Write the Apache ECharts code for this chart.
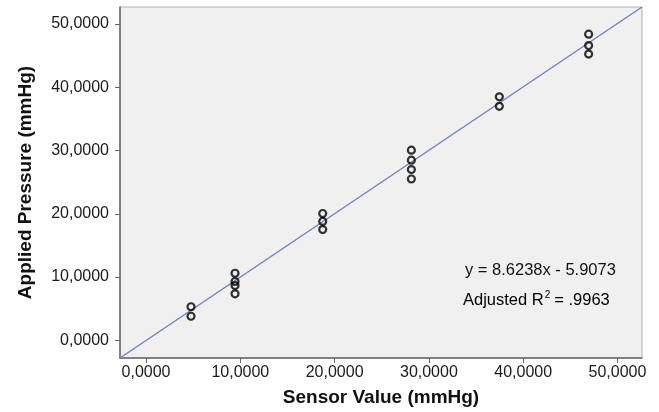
<!DOCTYPE html>
<html><head><meta charset="utf-8">
<script src="https://cdn.jsdelivr.net/npm/echarts@6/dist/echarts.min.js"></script>
<style>html,body{margin:0;padding:0;background:#fff}#c{width:659px;height:412px}</style>
</head><body><div id="c"></div>
<script>
const xTicks = [0, 10, 20, 30, 40, 50];
const yTicks = [0, 10, 20, 30, 40, 50];
const sensorX = [4.77, 4.77, 9.44, 9.44, 9.44, 9.44, 18.74, 18.74, 18.74, 28.14, 28.14, 28.14, 28.14, 37.47, 37.47, 46.94, 46.94, 46.94];
const appliedY = [5.3, 3.8, 10.6, 9.3, 8.65, 7.35, 20.05, 18.8, 17.5, 30.06, 28.48, 27.0, 25.5, 38.5, 37.0, 48.4, 46.6, 45.25];
const fitX = [-2.76, 52.6];
const fitY = [-2.8, 52.7];
const eqText = 'y = 8.6238x - 5.9073';
const r2Text = '.9963';

const fmt = v => v.toFixed(4).replace('.', ',');
const FONT = '"Liberation Sans", Arial, sans-serif';
const chart = echarts.init(document.getElementById('c'), null, {renderer: 'canvas'});
chart.setOption({
  animation: false,
  backgroundColor: '#ffffff',
  grid: {left: 120, right: 17, top: 7, bottom: 54, show: true, backgroundColor: '#f0f0f0', borderColor: '#b0b0b0', borderWidth: 1},
  xAxis: {
    type: 'value', min: -2.76, max: 52.6,
    name: 'Sensor Value (mmHg)', nameLocation: 'middle', nameGap: 30,
    nameTextStyle: {fontFamily: FONT, fontSize: 19, fontWeight: 'bold', color: '#111'},
    axisLine: {show: true, onZero: false, lineStyle: {color: '#666', width: 1.5}},
    axisTick: {show: true, length: 5, customValues: xTicks, lineStyle: {color: '#666'}},
    axisLabel: {customValues: xTicks, formatter: fmt, margin: 7, fontFamily: FONT, fontSize: 16, color: '#1a1a1a'},
    splitLine: {show: false}
  },
  yAxis: {
    type: 'value', min: -2.8, max: 52.7,
    name: 'Applied Pressure (mmHg)', nameLocation: 'middle', nameGap: 85,
    nameTextStyle: {fontFamily: FONT, fontSize: 19, fontWeight: 'bold', color: '#111'},
    axisLine: {show: true, onZero: false, lineStyle: {color: '#666', width: 1.5}},
    axisTick: {show: true, length: 5, customValues: yTicks, lineStyle: {color: '#666'}},
    axisLabel: {customValues: yTicks, formatter: fmt, margin: 11, fontFamily: FONT, fontSize: 16, color: '#1a1a1a'},
    splitLine: {show: false}
  },
  series: [
    {
      type: 'line', data: fitX.map((x, i) => [x, fitY[i]]), symbol: 'none',
      lineStyle: {color: '#7680c0', width: 1.5}, z: 2, silent: true
    },
    {
      type: 'scatter', data: sensorX.map((x, i) => [x, appliedY[i]]),
      symbol: 'circle', symbolSize: 7,
      itemStyle: {color: 'rgba(0,0,0,0)', borderColor: '#000', borderWidth: 2.2},
      z: 3
    }
  ],
  graphic: [
    {type: 'text', left: 465, top: 262, style: {text: eqText, font: '16.5px ' + FONT, fill: '#111'}},
    {type: 'text', left: 463, top: 290, style: {
      text: '{a|Adjusted R}{s|2}{a|= ' + r2Text + '}',
      rich: {
        a: {fontFamily: FONT, fontSize: 16.5, lineHeight: 20, color: '#111'},
        s: {fontFamily: FONT, fontSize: 10, lineHeight: 10, verticalAlign: 'top', color: '#111', padding: [0, 4, 0, 1]}
      }
    }}
  ]
});
</script></body></html>
